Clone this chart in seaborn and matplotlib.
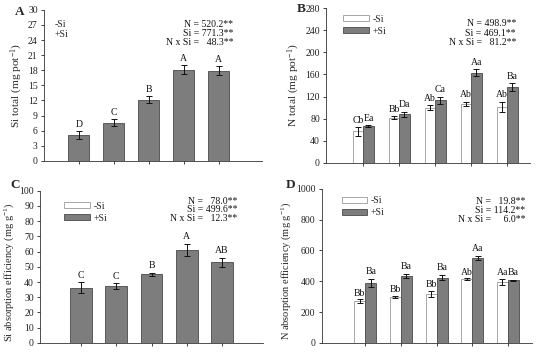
import matplotlib
matplotlib.use("Agg")
import matplotlib.pyplot as plt
import pandas as pd
import seaborn as sns
from matplotlib.patches import Patch

# N doses (no tick labels in the original figure)
doses = ["N1", "N2", "N3", "N4", "N5"]

# panel A: Si total (+Si only)
si_total = [5.1, 7.6, 12.1, 18.1, 17.9]
si_total_err = [0.8, 0.7, 0.7, 0.9, 0.9]
si_total_letters = ["D", "C", "B", "A", "A"]

# panel B: N total
n_total_minus = [57, 82, 100, 107, 102]
n_total_minus_err = [8, 3, 4, 4, 9]
n_total_plus = [67, 88, 113, 163, 137]
n_total_plus_err = [2, 5, 7, 6, 7]
n_total_letters_minus = ["Cb", "Bb", "Ab", "Ab", "Ab"]
n_total_letters_plus = ["Ea", "Da", "Ca", "Aa", "Ba"]

# panel C: Si absorption efficiency (+Si only)
si_eff = [36.3, 37.3, 45.0, 61.2, 53.1]
si_eff_err = [3.8, 2.2, 1.2, 4.0, 3.0]
si_eff_letters = ["C", "C", "B", "A", "AB"]

# panel D: N absorption efficiency
n_eff_minus = [272, 298, 315, 412, 395]
n_eff_minus_err = [10, 8, 20, 6, 18]
n_eff_plus = [388, 433, 423, 552, 405]
n_eff_plus_err = [25, 15, 18, 15, 5]
n_eff_letters_minus = ["Bb", "Bb", "Bb", "Ab", "Aa"]
n_eff_letters_plus = ["Ba", "Ba", "Ba", "Aa", "Ba"]

stats_a = ["N = 520.2**", "Si = 771.3**", "N x Si =   48.3**"]
stats_b = ["N = 498.9**", "Si = 469.1**", "N x Si =   81.2**"]
stats_c = ["N =   78.0**", "Si = 499.6**", "N x Si =   12.3**"]
stats_d = ["N =   19.8**", "Si = 114.2**", "N x Si =     6.0**"]

GRAY = "#7d7d7d"
EDGE = "#4a4a4a"
WEDGE = "#9a9a9a"

sns.set_theme(style="ticks")
plt.rcParams["font.family"] = ["Liberation Serif", "DejaVu Serif"]
plt.rcParams["mathtext.fontset"] = "custom"
plt.rcParams["mathtext.rm"] = "Liberation Serif"
plt.rcParams["mathtext.it"] = "Liberation Serif:italic"

fig = plt.figure(figsize=(5.5, 3.52), dpi=100)
axA = fig.add_axes([0.080, 0.543, 0.396, 0.429])
axB = fig.add_axes([0.593, 0.537, 0.371, 0.440])
axC = fig.add_axes([0.073, 0.026, 0.405, 0.432])
axD = fig.add_axes([0.585, 0.026, 0.382, 0.4375])


def style_axis(ax, ylim, step, xlim, ylabel, lsize=8.2, ly=0.5):
    ax.set_ylim(0, ylim)
    ax.set_yticks(range(0, ylim + 1, step))
    ax.set_xlim(*xlim)
    ax.set_xticklabels([])
    ax.set_xlabel("")
    ax.set_ylabel(ylabel, fontsize=lsize, labelpad=2)
    ax.yaxis.label.set_y(ly)
    sns.despine(ax=ax)
    for sp in ["left", "bottom"]:
        ax.spines[sp].set_linewidth(0.6)
        ax.spines[sp].set_color("#333333")
    ax.tick_params(axis="y", labelsize=7, length=2.5, width=0.6, pad=2, colors="#222222")
    ax.tick_params(axis="x", length=2, width=0.6, colors="#222222")


def single_panel(ax, vals, errs, letters, width):
    df = pd.DataFrame({"dose": doses, "value": vals})
    sns.barplot(data=df, x="dose", y="value", color=GRAY, saturation=1,
                width=width, edgecolor=EDGE, linewidth=0.6, errorbar=None, ax=ax)
    bars = ax.containers[0]
    xs = [b.get_x() + b.get_width() / 2 for b in bars]
    ax.errorbar(xs, vals, yerr=errs, fmt="none", ecolor="#111111",
                elinewidth=0.7, capsize=2.2, capthick=0.7)
    return xs


def pair_panel(ax, minus, minus_err, plus, plus_err, width):
    df = pd.DataFrame({
        "dose": doses * 2,
        "value": minus + plus,
        "trt": ["-Si"] * 5 + ["+Si"] * 5,
    })
    sns.barplot(data=df, x="dose", y="value", hue="trt", hue_order=["-Si", "+Si"],
                palette=["white", GRAY], saturation=1, width=width,
                linewidth=0.6, errorbar=None, legend=False, ax=ax)
    for b in ax.containers[0]:
        b.set_edgecolor(WEDGE)
    for b in ax.containers[1]:
        b.set_edgecolor(EDGE)
    out = []
    for cont, vals, errs in [(ax.containers[0], minus, minus_err),
                             (ax.containers[1], plus, plus_err)]:
        xs = [b.get_x() + b.get_width() / 2 for b in cont]
        ax.errorbar(xs, vals, yerr=errs, fmt="none", ecolor="#111111",
                    elinewidth=0.7, capsize=2, capthick=0.7)
        out.append(xs)
    return out


def put_letters(ax, xs, vals, errs, letters, pad):
    for x, v, e, t in zip(xs, vals, errs, letters):
        ax.text(x, v + e + pad, t, ha="center", va="bottom", fontsize=7, color="#111111")


def put_stats(ax, lines, x, y, dy):
    for i, line in enumerate(lines):
        ax.text(x, y - i * dy, line, transform=ax.transAxes, ha="right",
                va="center", fontsize=7, color="#111111")


def pair_legend(ax, loc):
    handles = [Patch(facecolor="white", edgecolor=WEDGE, linewidth=0.6, label="-Si"),
               Patch(facecolor=GRAY, edgecolor=EDGE, linewidth=0.6, label="+Si")]
    ax.legend(handles=handles, loc="upper left", bbox_to_anchor=loc, frameon=False,
              fontsize=7, handlelength=2.6, handleheight=0.55, handletextpad=0.4,
              labelspacing=0.3, borderpad=0.2, borderaxespad=0)


# A
xs = single_panel(axA, si_total, si_total_err, si_total_letters, 0.6)
style_axis(axA, 30, 3, (-1.0, 5.23), "Si total (mg pot$^{-1}$)")
put_letters(axA, xs, si_total, si_total_err, si_total_letters, 0.5)
put_stats(axA, stats_a, 0.87, 0.905, 0.06)
axA.text(0.05, 0.90, "-Si", transform=axA.transAxes, fontsize=7, va="center")
axA.text(0.05, 0.834, "+Si", transform=axA.transAxes, fontsize=7, va="center")

# B
xm, xp = pair_panel(axB, n_total_minus, n_total_minus_err, n_total_plus, n_total_plus_err, 0.58)
style_axis(axB, 280, 40, (-1.03, 4.64), "N total (mg pot$^{-1}$)")
put_letters(axB, xm, n_total_minus, n_total_minus_err, n_total_letters_minus, 4)
put_letters(axB, xp, n_total_plus, n_total_plus_err, n_total_letters_plus, 4)
put_stats(axB, stats_b, 0.93, 0.90, 0.061)
pair_legend(axB, (0.075, 0.97))

# C
xs = single_panel(axC, si_eff, si_eff_err, si_eff_letters, 0.62)
style_axis(axC, 100, 10, (-1.16, 5.16), "Si absorption efficiency (mg g$^{-1}$)", 7.5, 0.465)
put_letters(axC, xs, si_eff, si_eff_err, si_eff_letters, 1.5)
put_stats(axC, stats_c, 0.885, 0.93, 0.056)
pair_legend(axC, (0.10, 0.94))

# D
xm, xp = pair_panel(axD, n_eff_minus, n_eff_minus_err, n_eff_plus, n_eff_plus_err, 0.62)
style_axis(axD, 1000, 200, (-1.22, 4.67), "N absorption efficiency (mg g$^{-1}$)", 7.5, 0.465)
put_letters(axD, xm, n_eff_minus, n_eff_minus_err, n_eff_letters_minus, 12)
put_letters(axD, xp, n_eff_plus, n_eff_plus_err, n_eff_letters_plus, 18)
put_stats(axD, stats_d, 0.97, 0.92, 0.058)
pair_legend(axD, (0.085, 0.965))

# panel letters
for lab, x, y in [("A", 0.027, 0.966), ("B", 0.54, 0.975), ("C", 0.018, 0.474), ("D", 0.52, 0.474)]:
    fig.text(x, y, lab, fontsize=9.5, fontweight="bold", ha="left", va="center")

fig.savefig("out.png", dpi=100)
